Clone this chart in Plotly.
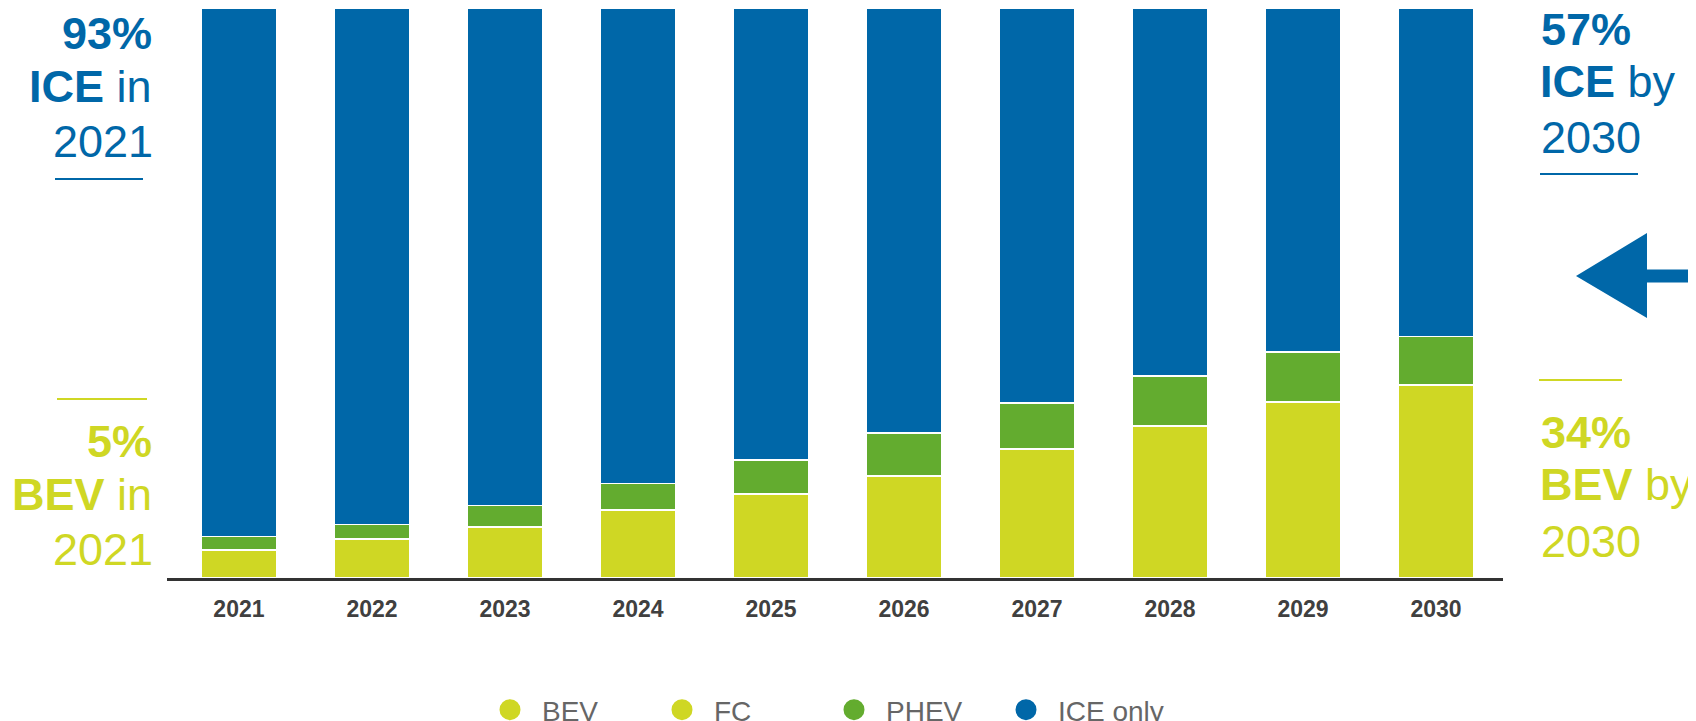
import plotly.graph_objects as go

# ---- data ----
years = ["2021", "2022", "2023", "2024", "2025", "2026", "2027", "2028", "2029", "2030"]
bev = [4.9, 6.8, 8.9, 11.9, 14.7, 17.9, 22.6, 26.7, 30.9, 33.9]
fc = [0, 0, 0, 0, 0, 0, 0, 0, 0, 0]
phev = [2.4, 2.6, 3.8, 4.7, 6.0, 7.5, 8.1, 8.7, 8.7, 8.5]
ice = [92.7, 90.6, 87.3, 83.4, 79.3, 74.6, 69.3, 64.6, 60.4, 57.6]
series_names = ["BEV", "FC", "PHEV", "ICE only"]

BLUE = "#0067A8"
YELLOW = "#CFD724"
GREEN = "#63AC2F"
series_colors = [YELLOW, YELLOW, GREEN, BLUE]
series_values = [bev, fc, phev, ice]

# ---- page geometry (pixels); the page body adds an 8px offset ----
OFF = 8
PAGE_W, PAGE_H = 1696, 721
W, H = PAGE_W - OFF, PAGE_H - OFF
PLOT_LEFT, PLOT_RIGHT, PLOT_BOTTOM = 167, 1503, 578  # page pixels
L = PLOT_LEFT - OFF
R = W - (PLOT_RIGHT - OFF)
T = 0
B = H - (PLOT_BOTTOM - OFF)
PW, PH = W - L - R, H - T - B


def px(x):
    """page x pixel -> paper coordinate"""
    return (x - OFF - L) / PW


def py(y):
    """page y pixel -> paper coordinate"""
    return (PLOT_BOTTOM - y) / PH


FONT = "Liberation Sans, Arial, sans-serif"

fig = go.Figure()
for name, vals, col in zip(series_names, series_values, series_colors):
    fig.add_trace(go.Bar(
        x=years, y=vals, name=name,
        marker=dict(color=col, line=dict(color="white", width=1.6)),
        showlegend=False,
    ))
# legend entries with round symbols
for name, col in zip(series_names, series_colors):
    fig.add_trace(go.Scatter(
        x=[None], y=[None], mode="markers", name=name,
        marker=dict(color=col, size=16, line=dict(color=col, width=5)),
        showlegend=True,
    ))

annotations = []
TY = 3  # vertical nudge for callout text


def txt(text, x, y, color, anchor):
    annotations.append(dict(
        text=text, xref="paper", yref="paper", x=px(x), y=py(y + TY),
        xanchor=anchor, yanchor="middle", showarrow=False, borderpad=0,
        font=dict(family=FONT, size=45, color=color),
    ))


# left side callouts
txt("<b>93%</b>", 153, 30, BLUE, "right")
txt("<b>ICE</b> in", 153, 83.5, BLUE, "right")
txt("2021", 154, 139, BLUE, "right")
txt("<b>5%</b>", 153, 438.5, YELLOW, "right")
txt("<b>BEV</b> in", 153, 491.5, YELLOW, "right")
txt("2021", 154, 546.5, YELLOW, "right")
# right side callouts
txt("<b>57%</b>", 1540, 26, BLUE, "left")
txt("<b>ICE</b> by", 1539, 79, BLUE, "left")
txt("2030", 1540, 134, BLUE, "left")
txt("<b>34%</b>", 1540, 429, YELLOW, "left")
txt("<b>BEV</b> by", 1539, 481.5, YELLOW, "left")
txt("2030", 1540, 538, YELLOW, "left")

shapes = []


def hline(x0, x1, y, color):
    shapes.append(dict(type="line", xref="paper", yref="paper", x0=px(x0), x1=px(x1),
                       y0=py(y), y1=py(y), line=dict(color=color, width=2)))


hline(55, 143, 179, BLUE)
hline(57, 147, 399, YELLOW)
hline(1540, 1638, 174, BLUE)
hline(1539, 1622, 380, YELLOW)

# arrow pointing left
pts = [(1576, 276), (1647, 233), (1647, 269.5), (1700, 269.5), (1700, 282.5),
       (1647, 282.5), (1647, 318)]
path = "M " + " L ".join(f"{px(a):.5f},{py(b):.5f}" for a, b in pts) + " Z"
shapes.append(dict(type="path", xref="paper", yref="paper", path=path,
                   fillcolor=BLUE, line=dict(width=0)))

fig.update_layout(
    width=W, height=H,
    barmode="stack", bargap=0.432,
    margin=dict(l=L, r=R, t=T, b=B, autoexpand=False),
    plot_bgcolor="white", paper_bgcolor="white",
    font=dict(family=FONT),
    xaxis=dict(
        type="category", range=[-0.541, 9.504], showgrid=False, zeroline=False,
        showline=True, linecolor="#333333", linewidth=3, ticks="",
        ticklabelstandoff=8,
        tickfont=dict(family=FONT, size=23, color="#404040", weight="bold"),
        fixedrange=True,
    ),
    yaxis=dict(range=[0, 100], visible=False, fixedrange=True),
    legend=dict(
        orientation="h", x=px(478), xanchor="left", y=py(710), yanchor="middle",
        font=dict(family=FONT, size=28, color="#666666"),
        itemwidth=54, entrywidth=103, entrywidthmode="pixels",
        bgcolor="rgba(0,0,0,0)", traceorder="normal",
    ),
    annotations=annotations,
    shapes=shapes,
)

fig.write_html("out.html")
